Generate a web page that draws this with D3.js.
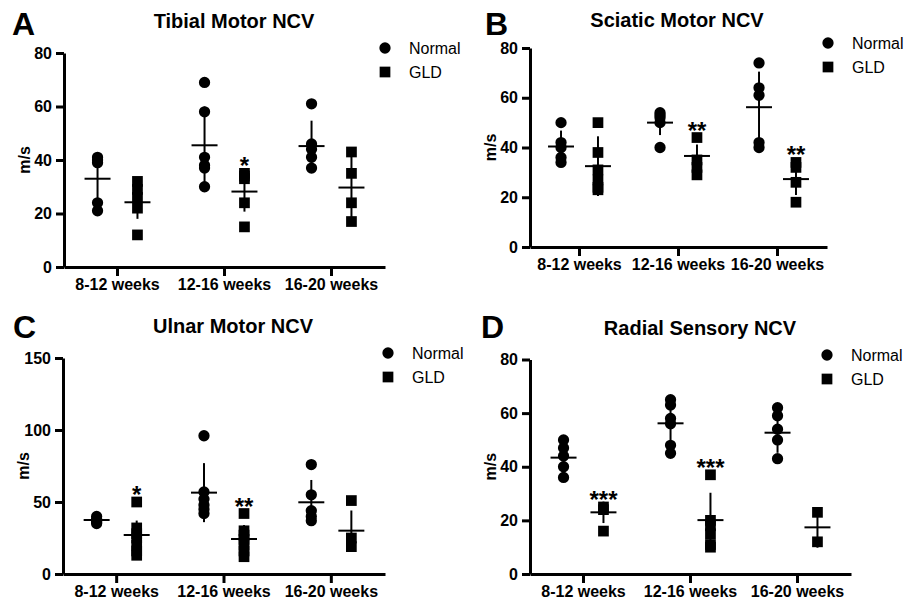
<!DOCTYPE html>
<html>
<head>
<meta charset="utf-8">
<script src="https://cdnjs.cloudflare.com/ajax/libs/d3/7.8.5/d3.min.js"></script>
<style>
    body { margin: 0; background: #fff; }
    svg { font-family: "Liberation Sans", Arial, Helvetica, sans-serif; }
    .panel_letter { font-size: 32px; font-weight: bold; }
    .panel_title { font-size: 20px; font-weight: bold; }
    .axis text { font-size: 16px; font-weight: bold; fill: #000; font-family: "Liberation Sans", Arial, sans-serif; }
    .axis path, .axis line { stroke: #000; stroke-width: 3; }
    .y_label { font-size: 16px; font-weight: bold; }
    .legend_text { font-size: 16px; }
    .stars { font-size: 24px; font-weight: bold; }
</style>
</head>
<body>
<div id="chart"></div>
<script>

// categories and groups shared by all four panels
var categories = ["8-12 weeks", "12-16 weeks", "16-20 weeks"];
var groups = ["Normal", "GLD"];

// A - Tibial motor NCV (m/s)
var tibialNormal = [[41, 40, 39, 24, 21], [69, 58, 41, 38, 37, 30], [61, 46, 44, 41, 37]];
var tibialGLD = [[32, 29, 26, 22, 12], [35, 34, 33, 24, 15], [43, 35, 24, 17]];
var tibialNormalMean = [33, 45.5, 45.2];
var tibialNormalSD = [9.5, 14.5, 9.5];
var tibialGLDMean = [24.2, 28.2, 29.7];
var tibialGLDSD = [6.2, 7.5, 12];
var tibialStars = ["", "*", ""];
var tibialTicks = [0, 20, 40, 60, 80];

// B - Sciatic motor NCV
var sciaticNormal = [[50, 42, 40, 36, 34], [54, 53, 52, 50, 40], [74, 64, 61, 42, 40]];
var sciaticGLD = [[50, 38, 31, 27, 24, 23], [44, 35, 32, 29], [34, 32, 26, 18]];
var sciaticNormalMean = [40.4, 50, 56.2];
var sciaticNormalSD = [6.4, 5, 14.3];
var sciaticGLDMean = [32.5, 36.6, 27.3];
var sciaticGLDSD = [12, 4.6, 6.4];
var sciaticStars = ["", "**", "**"];
var sciaticTicks = [0, 20, 40, 60, 80];

// C - Ulnar motor NCV
var ulnarNormal = [[40, 38, 37, 36, 35], [96, 57, 52, 48, 45, 42], [76, 55, 44, 40, 37]];
var ulnarGLD = [[50, 32, 28, 25, 20, 16, 13], [42, 30, 27, 24, 20, 16, 12], [51, 25, 19]];
var ulnarNormalMean = [37.5, 56.5, 49.8];
var ulnarNormalSD = [2, 20.5, 15.5];
var ulnarGLDMean = [27.1, 24.3, 30.1];
var ulnarGLDSD = [10, 9.7, 14];
var ulnarStars = ["*", "**", ""];
var ulnarTicks = [0, 50, 100, 150];

// D - Radial sensory NCV
var radialNormal = [[50, 47, 44, 40, 36], [65, 63, 58, 56, 48, 45], [62, 59, 54, 50, 43]];
var radialGLD = [[25, 24, 16], [37, 20, 18, 15, 11, 10], [23, 12]];
var radialNormalMean = [43.4, 56.2, 52.7];
var radialNormalSD = [5, 6.5, 7.5];
var radialGLDMean = [23, 20.1, 17.4];
var radialGLDSD = [4, 10.2, 7.6];
var radialStars = ["***", "***", ""];
var radialTicks = [0, 20, 40, 60, 80];


/*
 * NCVPanel - one scatter panel with mean +/- SD
 * @param _svg     -- svg selection to draw into
 * @param _config  -- layout + data for the panel
 */
NCVPanel = function(_svg, _config) {
    this.svg = _svg;
    this.config = _config;
    this.initVis();
}

NCVPanel.prototype.initVis = function() {
    var vis = this;
    var c = vis.config;

    vis.g = vis.svg.append("g");

    vis.x = d3.scaleBand().domain(categories).range([c.left, c.right]);
    vis.xGroup = d3.scalePoint().domain(groups).range([0, vis.x.bandwidth()]).padding(0.84);
    vis.y = d3.scaleLinear().domain([0, c.yMax]).range([c.bottom, c.top]);

    vis.g.append("text")
        .attr("class", "panel_letter")
        .attr("x", c.letterX)
        .attr("y", c.letterY)
        .text(c.letter);

    vis.g.append("text")
        .attr("class", "panel_title")
        .attr("x", c.titleX)
        .attr("y", c.titleY)
        .attr("text-anchor", "middle")
        .text(c.title);

    vis.g.append("text")
        .attr("class", "y_label")
        .attr("transform", "rotate(-90)")
        .attr("x", -(c.top + c.bottom) / 2)
        .attr("y", c.left - 40)
        .attr("dy", "0.35em")
        .attr("text-anchor", "middle")
        .text("m/s");

    // one row per group / category
    var rows = [];
    groups.forEach(function(grp) {
        categories.forEach(function(cat, i) {
            rows.push({
                group: grp,
                cat: cat,
                values: c.points[grp][i],
                mean: c.means[grp][i],
                sd: c.sds[grp][i],
                stars: grp === "GLD" ? c.stars[i] : ""
            });
        });
    });

    var symCircle = d3.symbol().type(d3.symbolCircle).size(100);
    var symSquare = d3.symbol().type(d3.symbolSquare).size(115);

    var cell = vis.g.selectAll(".cell")
        .data(rows)
        .enter()
        .append("g")
        .attr("class", "cell")
        .attr("transform", function(d) {
            return "translate(" + (vis.x(d.cat) + vis.xGroup(d.group)) + ",0)";
        });

    cell.selectAll(".pt")
        .data(function(d) { return d.values.map(function(v) { return {v: v, group: d.group}; }); })
        .enter()
        .append("path")
        .attr("class", "pt")
        .attr("transform", function(d) { return "translate(0," + vis.y(d.v) + ")"; })
        .attr("d", function(d) { return d.group === "Normal" ? symCircle() : symSquare(); })
        .attr("fill", "#000");

    cell.append("line")
        .attr("x1", 0).attr("x2", 0)
        .attr("y1", function(d) { return vis.y(d.mean - d.sd); })
        .attr("y2", function(d) { return vis.y(d.mean + d.sd); })
        .attr("stroke", "#000")
        .attr("stroke-width", 2);

    cell.append("line")
        .attr("x1", -13).attr("x2", 13)
        .attr("y1", function(d) { return vis.y(d.mean); })
        .attr("y2", function(d) { return vis.y(d.mean); })
        .attr("stroke", "#000")
        .attr("stroke-width", 2);

    cell.filter(function(d) { return d.stars !== ""; })
        .append("text")
        .attr("class", "stars")
        .attr("text-anchor", "middle")
        .attr("y", function(d) { return vis.y(d3.max(d.values)) + 1; })
        .text(function(d) { return d.stars; });

    // axes
    vis.g.append("g")
        .attr("class", "axis")
        .attr("transform", "translate(" + c.left + ",0)")
        .call(d3.axisLeft(vis.y).tickValues(c.ticks).tickSize(8).tickPadding(4).tickSizeOuter(0));

    vis.g.append("g")
        .attr("class", "axis")
        .attr("transform", "translate(0," + c.bottom + ")")
        .call(d3.axisBottom(vis.x).tickSize(9).tickPadding(3).tickSizeOuter(0));

    // legend
    var leg = vis.g.selectAll(".legend")
        .data(groups)
        .enter()
        .append("g")
        .attr("class", "legend")
        .attr("transform", function(d, i) {
            return "translate(" + c.legendX + "," + (c.legendY + i * 24) + ")";
        });
    leg.append("path")
        .attr("d", function(d) { return d === "Normal" ? symCircle() : symSquare(); })
        .attr("fill", "#000");
    leg.append("text")
        .attr("class", "legend_text")
        .attr("x", 24)
        .attr("dy", "0.35em")
        .text(function(d) { return d; });
}


var svg = d3.select("#chart")
    .append("svg")
    .attr("width", 912)
    .attr("height", 604);

new NCVPanel(svg, {
    letter: "A", letterX: 12, letterY: 35,
    title: "Tibial Motor NCV", titleX: 234, titleY: 28,
    left: 64, right: 385, top: 53, bottom: 267, yMax: 80, ticks: tibialTicks,
    legendX: 385, legendY: 48,
    points: {Normal: tibialNormal, GLD: tibialGLD},
    means: {Normal: tibialNormalMean, GLD: tibialGLDMean},
    sds: {Normal: tibialNormalSD, GLD: tibialGLDSD},
    stars: tibialStars
});

new NCVPanel(svg, {
    letter: "B", letterX: 485, letterY: 35,
    title: "Sciatic Motor NCV", titleX: 677, titleY: 27,
    left: 530, right: 827, top: 48, bottom: 247, yMax: 80, ticks: sciaticTicks,
    legendX: 828, legendY: 43,
    points: {Normal: sciaticNormal, GLD: sciaticGLD},
    means: {Normal: sciaticNormalMean, GLD: sciaticGLDMean},
    sds: {Normal: sciaticNormalSD, GLD: sciaticGLDSD},
    stars: sciaticStars
});

new NCVPanel(svg, {
    letter: "C", letterX: 13, letterY: 338,
    title: "Ulnar Motor NCV", titleX: 233, titleY: 333,
    left: 63, right: 385, top: 358, bottom: 574, yMax: 150, ticks: ulnarTicks,
    legendX: 388, legendY: 353,
    points: {Normal: ulnarNormal, GLD: ulnarGLD},
    means: {Normal: ulnarNormalMean, GLD: ulnarGLDMean},
    sds: {Normal: ulnarNormalSD, GLD: ulnarGLDSD},
    stars: ulnarStars
});

new NCVPanel(svg, {
    letter: "D", letterX: 481, letterY: 338,
    title: "Radial Sensory NCV", titleX: 700, titleY: 335,
    left: 530, right: 851, top: 359.5, bottom: 574, yMax: 80, ticks: radialTicks,
    legendX: 827, legendY: 355,
    points: {Normal: radialNormal, GLD: radialGLD},
    means: {Normal: radialNormalMean, GLD: radialGLDMean},
    sds: {Normal: radialNormalSD, GLD: radialGLDSD},
    stars: radialStars
});

</script>
</body>
</html>
